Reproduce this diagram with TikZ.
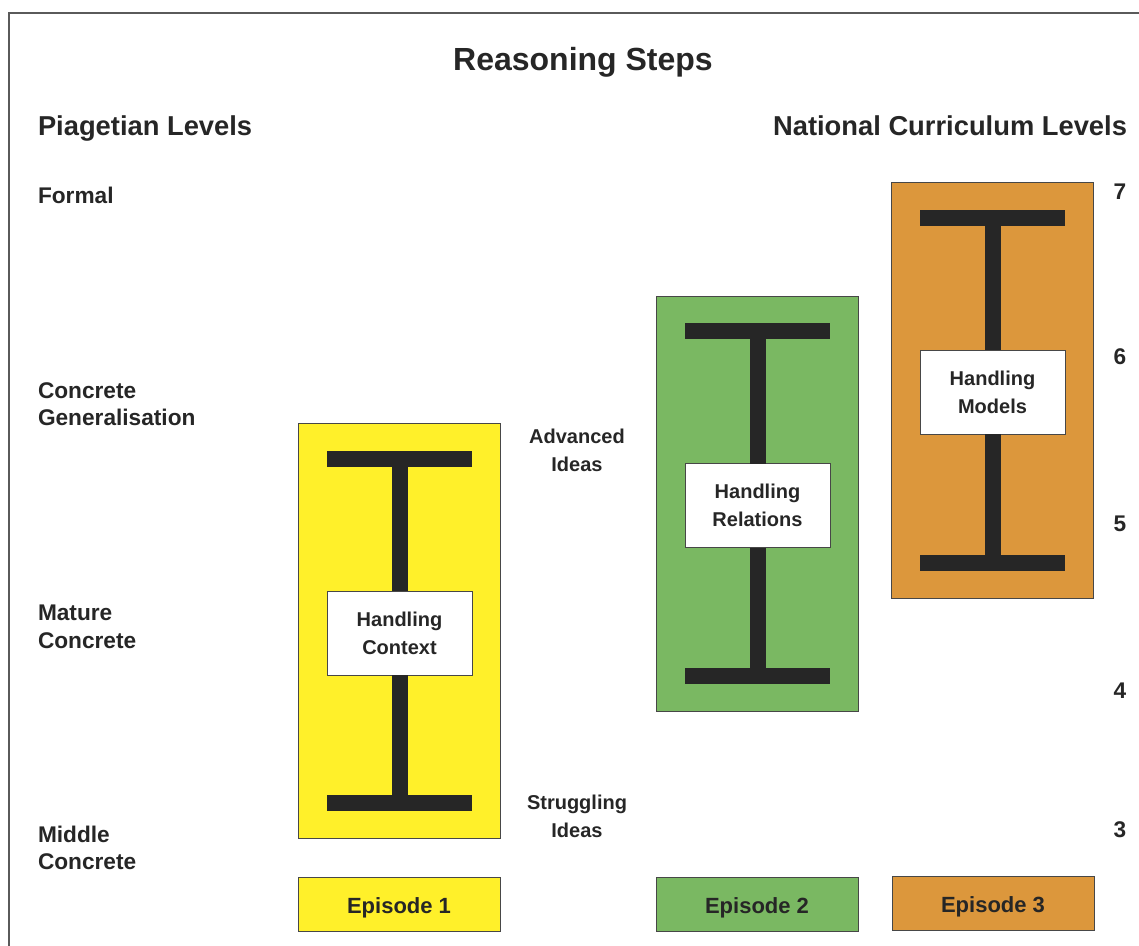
\documentclass[tikz,border=0pt]{standalone}
\usepackage{fontspec}
\setmainfont{Liberation Sans}
\begin{document}
\definecolor{ink}{HTML}{262626}
\definecolor{frameg}{HTML}{5A5A5A}
\definecolor{epyellow}{HTML}{FFF02A}
\definecolor{epgreen}{HTML}{7AB862}
\definecolor{eporange}{HTML}{DC973C}
\begin{tikzpicture}[x=0.75pt,y=-0.75pt,
  every node/.style={inner sep=0pt, outer sep=0pt, text=ink, font=\bfseries},
  panel/.style={draw=ink!85, line width=0.75pt, minimum width=151.5pt, minimum height=311.5pt},
  bar/.style={fill=ink, minimum width=108.75pt, minimum height=12pt},
  stem/.style={draw=ink, line width=12pt},
  labelbox/.style={draw=ink!85, fill=white, line width=0.75pt, minimum width=108.75pt, minimum height=63pt,
    align=center, font=\fontsize{15}{21}\selectfont\bfseries},
  episode/.style={draw=ink!85, line width=0.75pt, minimum width=151.5pt, minimum height=40.5pt,
    font=\fontsize{16.5}{20}\selectfont\bfseries},
  level/.style={anchor=west, align=left, font=\fontsize{17}{20.6}\selectfont\bfseries},
  idea/.style={align=center, font=\fontsize{15}{21}\selectfont\bfseries},
  grade/.style={font=\fontsize{17}{20}\selectfont\bfseries},
  heading/.style={font=\fontsize{20.5}{24}\selectfont\bfseries}]
\path[use as bounding box, clip] (0,0) rectangle (1139,946);
\draw[frameg, line width=1.3pt] (9,980) -- (9,13) -- (1160,13);

% headings
\node[font=\fontsize{24}{28}\selectfont\bfseries, anchor=base] (title) at (583,70) {Reasoning Steps};
\node[heading, anchor=base west] (piaget) at (38,135) {Piagetian Levels};
\node[heading, anchor=base east] (ncl) at (1127,135) {National Curriculum Levels};

% Piagetian levels
\node[level, anchor=base west] (formal) at (38,203) {Formal};
\node[level] (cgen) at (38,404) {Concrete\\Generalisation};
\node[level] (mature) at (38,627) {Mature\\Concrete};
\node[level] (middle) at (38,848) {Middle\\Concrete};

% curriculum levels
\node[grade] (g7) at (1120,192) {7};
\node[grade] (g6) at (1120,357) {6};
\node[grade] (g5) at (1120,524) {5};
\node[grade] (g4) at (1120,691) {4};
\node[grade] (g3) at (1120,830) {3};

% idea range labels
\node[idea] (adv) at (577,450) {Advanced\\Ideas};
\node[idea] (strug) at (577,816) {Struggling\\Ideas};

% episode 1
\node[panel, fill=epyellow] (p1) at (399,631) {};
\node[bar] (t1) at (399.5,459) {};
\node[bar] (b1) at (399.5,803) {};
\node[labelbox] (h1) at (399.5,633) {Handling\\Context};
\draw[stem] (t1.south) -- (h1.north);
\draw[stem] (h1.south) -- (b1.north);

% episode 2
\node[panel, fill=epgreen] (p2) at (757,504) {};
\node[bar] (t2) at (757.5,331) {};
\node[bar] (b2) at (757.5,676) {};
\node[labelbox] (h2) at (757.5,505.5) {Handling\\Relations};
\draw[stem] (t2.south) -- (h2.north);
\draw[stem] (h2.south) -- (b2.north);

% episode 3
\node[panel, fill=eporange] (p3) at (992,390.5) {};
\node[bar] (t3) at (992.5,218) {};
\node[bar] (b3) at (992.5,563) {};
\node[labelbox] (h3) at (992.5,392) {Handling\\Models};
\draw[stem] (t3.south) -- (h3.north);
\draw[stem] (h3.south) -- (b3.north);

% episode legend
\node[episode, fill=epyellow, text depth=0pt] (e1) at (399,904) {\raisebox{-2pt}{Episode 1}};
\node[episode, fill=epgreen, text depth=0pt] (e2) at (757,904) {\raisebox{-2pt}{Episode 2}};
\node[episode, fill=eporange, text depth=0pt] (e3) at (993,903.5) {\raisebox{-2pt}{Episode 3}};
\end{tikzpicture}
\end{document}
